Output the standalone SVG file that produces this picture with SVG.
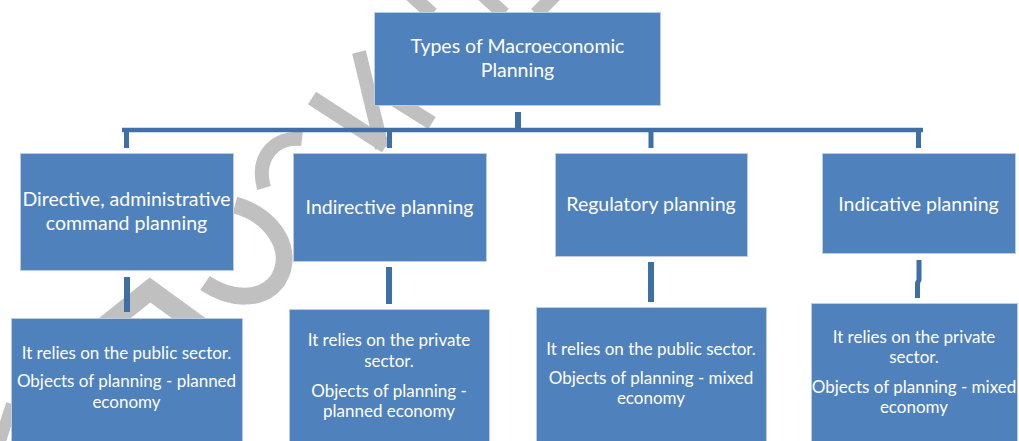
<svg xmlns="http://www.w3.org/2000/svg" width="1019" height="441" viewBox="0 0 1019 441">
  <style>
    .box { fill: #4F81BD; stroke: #B9CDE5; stroke-width: 1; }
    .t { fill: #FFFFFF; font-family: Lato, "Liberation Sans", sans-serif; text-anchor: middle; }
    .h { font-size: 19.5px; }
    .s { font-size: 17px; }
    .conn { stroke: #3F6FA5; fill: none; }
    .wm { stroke: #C0C0C0; fill: none; stroke-linecap: butt; }
  </style>
  <rect width="1019" height="441" fill="#FFFFFF"/>
  <g id="watermark" class="wm">
    <path d="M 0 441 L 12 404" stroke-width="12"/>
    <path d="M 100 330 L 150 290 L 205 330" stroke-width="20" stroke-linejoin="miter"/>
    <path d="M 235 205 C 272 215 296 250 278 280 C 262 302 230 300 205 283" stroke-width="17"/>
    <path d="M 302 139 C 276 136 255 156 264 188" stroke-width="14"/>
    <path d="M 312 98 L 386 146" stroke-width="15"/>
    <path d="M 359 52 L 382 148" stroke-width="14"/>
    <path d="M 392 98 L 432 123" stroke-width="14"/>
    <path d="M 408 -8 L 432 14" stroke-width="14"/>
    <path d="M 480 -8 L 504 14" stroke-width="14"/>
    <path d="M 558 -8 L 536 14" stroke-width="14"/>
  </g>
  <g id="connectors">
    <path class="conn" d="M 518 112 L 518 130" stroke-width="6"/>
    <path class="conn" d="M 122 130 L 923 130" stroke-width="4.5"/>
    <path class="conn" d="M 126.5 130 L 126.5 148" stroke-width="5"/>
    <path class="conn" d="M 389.5 130 L 389.5 148" stroke-width="5"/>
    <path class="conn" d="M 651 130 L 651 148" stroke-width="5"/>
    <path class="conn" d="M 918.5 130 L 918.5 148" stroke-width="5"/>
    <path class="conn" d="M 127 277 L 127 312" stroke-width="6"/>
    <path class="conn" d="M 389 267 L 389 304" stroke-width="6"/>
    <path class="conn" d="M 651 262 L 651 302" stroke-width="6"/>
    <path class="conn" d="M 919 260 L 919 280 L 917.5 283 L 917.5 298" stroke-width="5"/>
  </g>
  <g id="root">
    <rect class="box" x="374.5" y="12.5" width="286" height="93"/>
    <text class="t h" x="517.5" y="53">Types of Macroeconomic</text>
    <text class="t h" x="517.5" y="77">Planning</text>
  </g>
  <g id="directive">
    <rect class="box" x="20.5" y="153.5" width="213" height="117"/>
    <text class="t h" x="126.5" y="206">Directive, administrative</text>
    <text class="t h" x="126.5" y="230">command planning</text>
  </g>
  <g id="indirective">
    <rect class="box" x="293.5" y="153.5" width="193" height="108"/>
    <text class="t h" x="389.5" y="214">Indirective planning</text>
  </g>
  <g id="regulatory">
    <rect class="box" x="555.5" y="153.5" width="192" height="103"/>
    <text class="t h" x="651" y="211">Regulatory planning</text>
  </g>
  <g id="indicative">
    <rect class="box" x="822.5" y="153.5" width="193" height="100"/>
    <text class="t h" x="918.5" y="211">Indicative planning</text>
  </g>
  <g id="directive-desc">
    <rect class="box" x="11.5" y="318.5" width="231" height="130"/>
    <text class="t s" x="126.5" y="359">It relies on the public sector.</text>
    <text class="t s" x="126.5" y="387">Objects of planning - planned</text>
    <text class="t s" x="126.5" y="408">economy</text>
  </g>
  <g id="indirective-desc">
    <rect class="box" x="289.5" y="309.5" width="200" height="140"/>
    <text class="t s" x="389" y="346">It relies on the private</text>
    <text class="t s" x="389" y="367">sector.</text>
    <text class="t s" x="389" y="397">Objects of planning -</text>
    <text class="t s" x="389" y="417">planned economy</text>
  </g>
  <g id="regulatory-desc">
    <rect class="box" x="536.5" y="307.5" width="230" height="140"/>
    <text class="t s" x="651" y="355">It relies on the public sector.</text>
    <text class="t s" x="651" y="384">Objects of planning - mixed</text>
    <text class="t s" x="651" y="404">economy</text>
  </g>
  <g id="indicative-desc">
    <rect class="box" x="811.5" y="303.5" width="206" height="145"/>
    <text class="t s" x="914" y="343">It relies on the private</text>
    <text class="t s" x="914" y="363">sector.</text>
    <text class="t s" x="914" y="393">Objects of planning - mixed</text>
    <text class="t s" x="914" y="413">economy</text>
  </g>
</svg>
